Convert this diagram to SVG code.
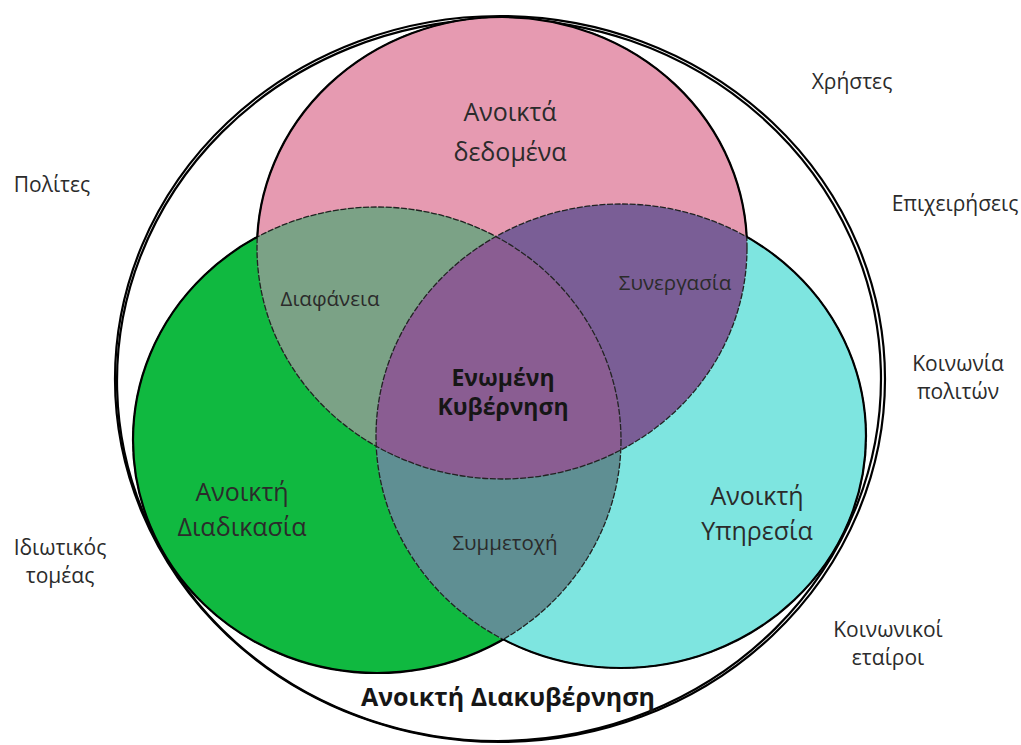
<svg xmlns="http://www.w3.org/2000/svg" width="1021" height="745" viewBox="0 0 1021 745">
  <style>
    .lbl { font-family: "Open Sans", "Noto Sans", "DejaVu Sans", sans-serif; fill: #2b2b2b; text-anchor: middle; }
    .big { font-size: 25px; }
    .mid { font-size: 20.5px; }
    .out { font-size: 21px; }
    .bold { font-weight: bold; fill: #161616; }
    .solid { fill: none; stroke: #000; stroke-width: 2.2; }
    .inner { fill: none; stroke: #222; stroke-width: 1.3; stroke-dasharray: 6 1.6; }
  </style>
  <defs>
    <ellipse id="ePink" cx="502" cy="248" rx="245" ry="231"/>
    <ellipse id="eGreen" cx="377" cy="440" rx="244" ry="233"/>
    <ellipse id="eCyan" cx="621" cy="436" rx="245" ry="232"/>
    <clipPath id="cPink"><use href="#ePink"/></clipPath>
    <clipPath id="cGreen"><use href="#eGreen"/></clipPath>
    <clipPath id="cCyan"><use href="#eCyan"/></clipPath>
    <mask id="mPink" maskUnits="userSpaceOnUse" x="0" y="0" width="1021" height="745">
      <rect width="1021" height="745" fill="#fff"/>
      <use href="#eGreen" fill="#000"/><use href="#eCyan" fill="#000"/>
    </mask>
    <mask id="mGreen" maskUnits="userSpaceOnUse" x="0" y="0" width="1021" height="745">
      <rect width="1021" height="745" fill="#fff"/>
      <use href="#ePink" fill="#000"/><use href="#eCyan" fill="#000"/>
    </mask>
    <mask id="mCyan" maskUnits="userSpaceOnUse" x="0" y="0" width="1021" height="745">
      <rect width="1021" height="745" fill="#fff"/>
      <use href="#ePink" fill="#000"/><use href="#eGreen" fill="#000"/>
    </mask>
  </defs>

  <rect width="1021" height="745" fill="#fff"/>

  <!-- outer boundary, sketched as a double stroke -->
  <g id="outer">
    <ellipse class="solid" cx="500" cy="379" rx="385" ry="363" stroke-width="2.6"/>
    <ellipse class="solid" cx="499" cy="380" rx="382" ry="361" transform="rotate(-1.5 499 380)" stroke-width="2"/>
  </g>

  <!-- base circles -->
  <g id="circle-data"><use href="#ePink" fill="#E69AB1"/></g>
  <g id="circle-process"><use href="#eGreen" fill="#10B940"/></g>
  <g id="circle-service"><use href="#eCyan" fill="#7EE5E0"/></g>

  <!-- overlaps -->
  <g id="overlap-transparency" clip-path="url(#cPink)"><use href="#eGreen" fill="#7BA286"/></g>
  <g id="overlap-cooperation" clip-path="url(#cPink)"><use href="#eCyan" fill="#7A5E96"/></g>
  <g id="overlap-participation" clip-path="url(#cGreen)"><use href="#eCyan" fill="#5F8F93"/></g>
  <g id="overlap-center" clip-path="url(#cPink)"><g clip-path="url(#cCyan)"><use href="#eGreen" fill="#8A5D92"/></g></g>

  <!-- outlines: dashed where circles overlap, solid on the outside -->
  <g id="connectors">
    <use href="#ePink" class="inner"/>
    <use href="#eGreen" class="inner"/>
    <use href="#eCyan" class="inner"/>
    <use href="#ePink" class="solid" mask="url(#mPink)"/>
    <use href="#eGreen" class="solid" mask="url(#mGreen)"/>
    <use href="#eCyan" class="solid" mask="url(#mCyan)"/>
  </g>

  <!-- labels inside circles -->
  <g id="label-data">
    <text class="lbl big" x="510" y="121">Ανοικτά</text>
    <text class="lbl big" x="510" y="161">δεδομένα</text>
  </g>
  <g id="label-process">
    <text class="lbl big" x="242" y="501">Ανοικτή</text>
    <text class="lbl big" x="242" y="536">Διαδικασία</text>
  </g>
  <g id="label-service">
    <text class="lbl big" x="757" y="505">Ανοικτή</text>
    <text class="lbl big" x="757" y="540">Υπηρεσία</text>
  </g>
  <g id="label-transparency"><text class="lbl mid" x="330" y="306">Διαφάνεια</text></g>
  <g id="label-cooperation"><text class="lbl mid" x="675" y="290">Συνεργασία</text></g>
  <g id="label-participation"><text class="lbl mid" x="505" y="550">Συμμετοχή</text></g>
  <g id="label-center">
    <text class="lbl bold" x="503" y="386" font-size="23">Ενωμένη</text>
    <text class="lbl bold" x="503" y="415" font-size="23">Κυβέρνηση</text>
  </g>
  <g id="label-title"><text class="lbl bold" x="508" y="706" font-size="25">Ανοικτή Διακυβέρνηση</text></g>

  <!-- stakeholders around the outside -->
  <g id="label-users"><text class="lbl out" x="852" y="89">Χρήστες</text></g>
  <g id="label-citizens"><text class="lbl out" x="52" y="192">Πολίτες</text></g>
  <g id="label-business"><text class="lbl out" x="955" y="211">Επιχειρήσεις</text></g>
  <g id="label-society">
    <text class="lbl out" x="958" y="371">Κοινωνία</text>
    <text class="lbl out" x="958" y="399">πολιτών</text>
  </g>
  <g id="label-private">
    <text class="lbl out" x="60" y="555">Ιδιωτικός</text>
    <text class="lbl out" x="60" y="583">τομέας</text>
  </g>
  <g id="label-partners">
    <text class="lbl out" x="888" y="637">Κοινωνικοί</text>
    <text class="lbl out" x="888" y="665">εταίροι</text>
  </g>
</svg>
